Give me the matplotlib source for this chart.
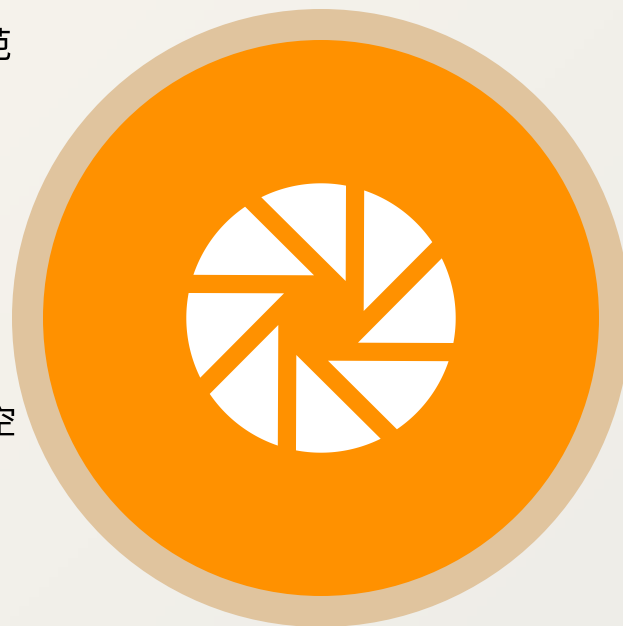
import numpy as np
import matplotlib
matplotlib.use('Agg')
import matplotlib.pyplot as plt
from matplotlib.patches import Circle, Polygon

plt.rcParams['font.family'] = ['Noto Sans CJK SC', 'DejaVu Sans']

# clipped labels on the left edge
labels = ['范', '空']
label_x = [-7, -1]
label_y = [47, 424]

# aperture icon, 8 blades
n_blades = 8
icon_r = 134.7
apexes = [(42.7, 7.0), (43.6, 8.7)]  # blade tips relative to centre, they alternate a bit
arc_from = 71.3
arc_to = 34.3

W, H = 623, 626
cx, cy = 321, 318

fig = plt.figure(figsize=(W / 100, H / 100), dpi=100)
ax = fig.add_axes([0, 0, 1, 1])
ax.set_xlim(0, W)
ax.set_ylim(H, 0)
ax.axis('off')

# background, faint diagonal gradient
xx, yy = np.meshgrid(np.linspace(0, 1, 64), np.linspace(0, 1, 64))
t = (xx + yy) / 2
c0 = np.array([0xf6, 0xf3, 0xec]) / 255
c1 = np.array([0xee, 0xed, 0xe8]) / 255
bg = c0 + (c1 - c0) * t[..., None]
ax.imshow(bg, extent=[0, W, H, 0], aspect='auto', zorder=0)

for txt, x, y in zip(labels, label_x, label_y):
    ax.text(x, y, txt, fontsize=25, color='black', ha='center', va='center', zorder=1)

ax.add_patch(Circle((cx, cy), 309, color='#e0c49e', lw=0, zorder=2))
ax.add_patch(Circle((cx, cy), 278, color='#ff9100', lw=0, zorder=3))

for i in range(n_blades):
    rot = np.radians(-45 * i)
    apex = apexes[i % 2]
    ang = np.radians(np.linspace(arc_from, arc_to, 30)) + rot
    arc_x = cx + icon_r * np.cos(ang)
    arc_y = cy - icon_r * np.sin(ang)
    tip_x = cx + apex[0] * np.cos(rot) - apex[1] * np.sin(rot)
    tip_y = cy - (apex[0] * np.sin(rot) + apex[1] * np.cos(rot))
    pts = np.column_stack([np.r_[tip_x, arc_x], np.r_[tip_y, arc_y]])
    ax.add_patch(Polygon(pts, closed=True, facecolor='white', edgecolor='none', zorder=4))

fig.savefig('out.png', dpi=100)
